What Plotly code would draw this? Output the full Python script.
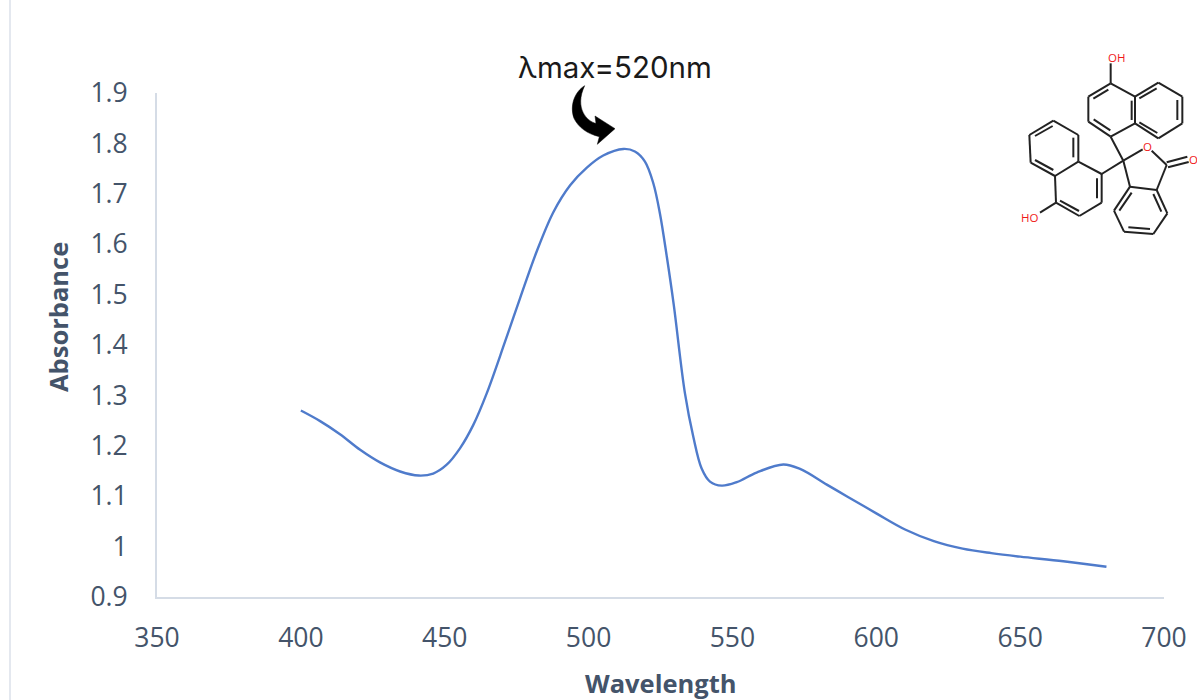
import plotly.graph_objects as go

wavelength = [400, 406.7, 413.6, 420.6, 427.5, 434.5, 441, 446, 450.6, 455.3, 459.9, 464.6, 471, 476.2, 482, 487.8, 493.6, 499.4, 505.1,
              512.1, 516.1, 519.6, 522.5, 524.8, 527.2, 529.6, 533.5, 536.4, 539.3, 542.2, 546.3, 551.5, 558.4, 567.7, 573.5, 582.8, 590,
              600, 610, 620, 630, 640, 650, 665, 680]
absorbance = [1.27, 1.249, 1.223, 1.192, 1.167, 1.149, 1.141, 1.145, 1.162, 1.195, 1.241, 1.304, 1.407, 1.493, 1.586, 1.664, 1.717, 1.752, 1.776,
              1.789, 1.784, 1.764, 1.721, 1.661, 1.575, 1.48, 1.304, 1.218, 1.155, 1.129, 1.121, 1.128, 1.147, 1.163, 1.154, 1.123, 1.099,
              1.066, 1.034, 1.011, 0.996, 0.987, 0.98, 0.971, 0.96]
x_ticks = [350, 400, 450, 500, 550, 600, 650, 700]
y_ticks = [0.9, 1, 1.1, 1.2, 1.3, 1.4, 1.5, 1.6, 1.7, 1.8, 1.9]
y_labels = ["0.9", "1", "1.1", "1.2", "1.3", "1.4", "1.5", "1.6", "1.7", "1.8", "1.9"]
x_title = "Wavelength"
y_title = "Absorbance"
peak_note = "λmax=520nm"

W, H = 1197, 700
TXT = "#44546A"
AXIS = "#D5DCE6"

def px(x, y):
    return x / W, 1 - y / H

def mol(zx, zy):
    return px(1000 + zx / 3, 30 + zy / 3)

def arrow(zx, zy):
    return px(500 + zx / 3, 40 + zy / 3)

bonds = [
    # upper naphthalene
    ((332,160),(265,200)),((265,200),(265,275)),((265,275),(332,320)),((332,320),(405,280)),((405,280),(405,200)),((405,200),(332,160)),
    ((405,200),(475,158)),((475,158),(547,200)),((547,200),(547,280)),((547,280),(475,325)),((475,325),(405,280)),
    ((332,160),(332,100)),((332,320),(370,392)),
    ((280,206),(325,179)),((281,268),(331,301)),((395,212),(395,270)),((418,205),(470,175)),((532,210),(532,270)),((418,277),(472,309)),
    # left naphthalene
    ((305,432),(235,395)),((235,395),(165,438)),((165,438),(168,518)),((168,518),(238,558)),((238,558),(305,518)),((305,518),(305,432)),
    ((235,395),(235,315)),((235,315),(160,272)),((160,272),(88,315)),((88,315),(92,398)),((92,398),(165,438)),
    ((305,432),(370,392)),((168,518),(120,548)),
    ((291,445),(291,505)),((180,512),(237,543)),((220,323),(220,382)),((105,318),(158,288)),((105,390),(160,420)),
    # lactone
    ((370,392),(428,358)),((455,362),(500,405)),((500,405),(470,480)),((470,480),(390,470)),((390,470),(370,392)),
    ((500,397),(562,380)),((504,412),(566,396)),
    # benzene
    ((470,480),(502,550)),((502,550),(460,612)),((460,612),(372,605)),((372,605),(342,542)),((342,542),(390,470)),
    ((395,488),(358,542)),((385,592),(450,597)),((484,545),(460,492)),
]

shapes = [dict(type="line", xref="paper", yref="paper", x0=10/W, x1=10/W, y0=0, y1=1,
               line=dict(color="#E4E8EF", width=2), layer="below")]
for a, b in bonds:
    (x0, y0), (x1, y1) = mol(*a), mol(*b)
    shapes.append(dict(type="line", xref="paper", yref="paper", x0=x0, y0=y0, x1=x1, y1=y1,
                       line=dict(color="#222222", width=2)))

def P(x, y):
    a, b = arrow(x, y)
    return f"{a:.5f},{b:.5f}"

arrow_path = ("M" + P(254,137) + " C" + P(225,155) + " " + P(208,195) + " " + P(222,235) +
              " C" + P(235,262) + " " + P(262,282) + " " + P(298,290) +
              " L" + P(292,313) + " L" + P(345,266) + " L" + P(285,228) + " L" + P(288,250) +
              " C" + P(262,245) + " " + P(222,205) + " " + P(254,137) + " Z")
shapes.append(dict(type="path", xref="paper", yref="paper", path=arrow_path,
                   fillcolor="#000000", line=dict(color="#000000", width=0.5)))

def centered(t, x, y, **kw):
    return dict(text=t, x=x, y=y, xref="paper", yref="paper", showarrow=False,
                xanchor="center", yanchor="middle", **kw)

def label(zx, zy, t):
    x, y = mol(zx, zy)
    return centered(t, x, y, font=dict(family="Open Sans", size=11.5, color="#F01818"))

annotations = [
    centered(f"<b>{x_title}</b>", 660.5/W, 1-683/H, font=dict(family="Open Sans", size=25.5, color=TXT)),
    centered(f"<b>{y_title}</b>", 58/W, 1-317/H, textangle=-90, font=dict(family="Open Sans", size=25.5, color=TXT)),
    centered(peak_note, 615/W, 1-67/H, font=dict(family="Inter", size=29.5, color="#1A1A1A")),
    label(348, 82, "OH"), label(88, 562, "HO"), label(442, 350, "O"), label(580, 388, "O"),
]

fig = go.Figure(go.Scatter(x=wavelength, y=absorbance, mode="lines",
                           line=dict(color="#4F7BCB", width=2.4, shape="spline", smoothing=1),
                           showlegend=False, hoverinfo="skip"))
fig.update_layout(
    width=W, height=H, autosize=False, margin=dict(l=0, r=0, t=0, b=0),
    paper_bgcolor="white", plot_bgcolor="white", showlegend=False,
    shapes=shapes, annotations=annotations,
    xaxis=dict(domain=[157/W, 1164/W], range=[350, 700], tickvals=x_ticks, showgrid=False, zeroline=False,
               showline=True, linecolor=AXIS, linewidth=2, ticks="", ticklabelstandoff=16,
               tickfont=dict(family="Open Sans", size=26.5, color=TXT), automargin=False),
    yaxis=dict(domain=[1-597/H, 1-93/H], range=[0.9, 1.9], tickvals=y_ticks, ticktext=y_labels, showgrid=False, zeroline=False,
               showline=True, linecolor=AXIS, linewidth=2, ticks="", ticklabelstandoff=22,
               tickfont=dict(family="Open Sans", size=26.5, color=TXT), automargin=False),
)
fig.write_html("out.html", config={"displayModeBar": False},
               post_script="document.body.style.margin='0';document.body.style.overflow='hidden';")
